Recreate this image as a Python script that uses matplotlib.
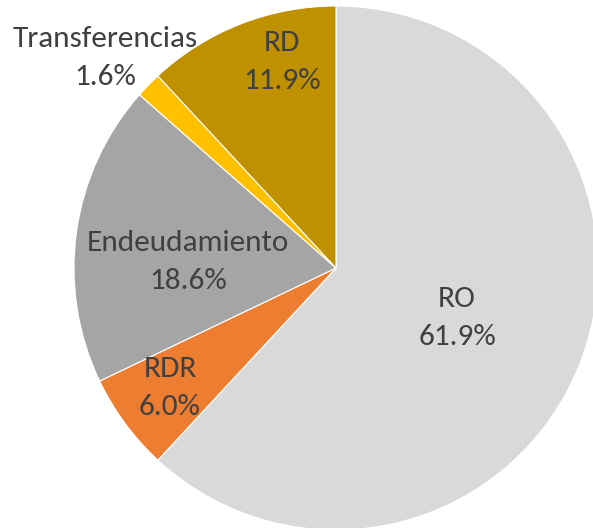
import matplotlib
matplotlib.use("Agg")
from matplotlib import pyplot as plt

# Shares of each source (percent), clockwise from 12 o'clock
labels = ["RO", "RDR", "Endeudamiento", "Transferencias", "RD"]
values = [61.9, 6.0, 18.6, 1.6, 11.9]
colors = ["#D9D9D9", "#ED7D31", "#A5A5A5", "#FFC000", "#BF9000"]

# label centres in pixel coords (x from left, y from top)
label_pos = [(457, 318), (170, 388), (188, 262), (105, 58), (282, 62)]

W, H = 593, 528
fig = plt.figure(figsize=(W / 100, H / 100), dpi=100)
ax = fig.add_axes([0, 0, 1, 1])

cx, cy, r = 336, 268, 262
ax.pie(values, colors=colors, startangle=90, counterclock=False,
       center=(cx, H - cy), radius=r, frame=True,
       wedgeprops=dict(linewidth=0.8, edgecolor="white"))

for lab, v, (x, y) in zip(labels, values, label_pos):
    ax.text(x, H - y, f"{lab}\n{v:.1f}%", ha="center", va="center",
            fontsize=22.5, color="#404040", linespacing=1.55,
            family=["Carlito", "Open Sans", "DejaVu Sans"])

ax.set_xlim(0, W)
ax.set_ylim(0, H)
ax.set_aspect("equal")
ax.axis("off")

plt.savefig("out.png", dpi=100)
